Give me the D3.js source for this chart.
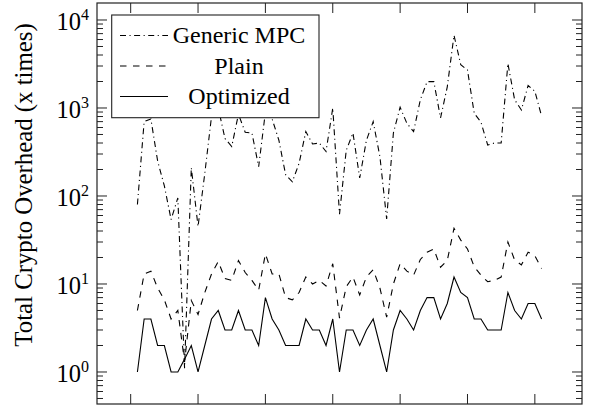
<!DOCTYPE html>
<html>
<head>
<meta charset="utf-8">
<script src="https://cdn.jsdelivr.net/npm/d3@7"></script>
<style>
  body { margin: 0; background: #fff; }
  svg { display: block; }
</style>
</head>
<body>
<svg id="chart" width="597" height="408"></svg>
<script>
/* global d3 */

const serif = "'Liberation Serif', 'Times New Roman', Times, 'DejaVu Serif', serif";

// data, one value per run (x = 1 .. 61)
const xTicks = [0, 10, 20, 30, 40, 50, 60];
const yTicks = [1, 10, 100, 1000, 10000];
const seriesNames = ["Generic MPC", "Plain", "Optimized"];

const generic = [80, 700, 750, 250, 130, 54, 95, 1.1, 210, 45,
  180, 800, 1000, 450, 365, 850, 530, 520, 215, 900,
  750, 430, 175, 145, 235, 540, 390, 400, 320, 1000,
  62, 330, 520, 160, 430, 700, 280, 55, 520, 1020,
  670, 540, 1240, 1990, 2000, 770, 1740, 6700, 3100, 2700,
  870, 690, 380, 400, 400, 3200, 1240, 950, 1800, 1550, 810];

const plain = [5, 13, 14, 9, 6.6, 4, 5, 1.3, 6.5, 4.5,
  8, 13, 18, 11.5, 11, 18.5, 13.5, 11, 8.5, 22,
  13, 13, 7, 6.6, 8, 12, 10, 11, 9.5, 17,
  4.1, 9.3, 12, 7.5, 12, 14.5, 9, 4.2, 10, 17,
  14, 12.6, 19, 23, 25, 15.5, 18.5, 43, 31.5, 25,
  15.7, 12.6, 10.6, 11, 12, 30, 18.7, 16.5, 23, 21, 15];

const optimized = [1, 4, 4, 2, 2, 1, 1, 1.4, 2, 1,
  2, 4, 5, 3, 3, 5, 3, 3, 2, 7,
  4, 3, 2, 2, 2, 4, 3, 3, 2, 4,
  1, 3, 3, 2, 3, 4, 2, 1, 3, 5,
  4, 3, 5, 7, 7, 4, 6, 12, 8, 7,
  4, 4, 3, 3, 3, 8, 5, 4, 6, 6, 4];

const dashes = ["6,3.5,1.1,3.5", "6.5,6.5", null];

const box = { left: 97, right: 582, top: 3, bottom: 404 };

const svg = d3.select("#chart");

const x = d3.scaleLinear().domain([-5, 67]).range([box.left, box.right]);
const y = d3.scaleLog().domain([0.4327, 15600]).range([box.bottom, box.top]);

// clip for the plot lines
svg.append("clipPath").attr("id", "plot-clip")
  .append("rect")
  .attr("x", box.left).attr("y", box.top)
  .attr("width", box.right - box.left).attr("height", box.bottom - box.top);

const plot = svg.append("g").attr("clip-path", "url(#plot-clip)");

const line = d3.line()
  .x((d, i) => x(i + 1))
  .y(d => y(d));

[generic, plain, optimized].forEach((values, k) => {
  plot.append("path")
    .datum(values)
    .attr("d", line)
    .attr("fill", "none")
    .attr("stroke", "#000")
    .attr("stroke-width", 1.1)
    .attr("stroke-dasharray", dashes[k]);
});

// ticks, all pointing inward
const ticks = svg.append("g").attr("stroke", "#222").attr("stroke-width", 1);

xTicks.forEach(t => {
  ticks.append("line").attr("x1", x(t)).attr("x2", x(t))
    .attr("y1", box.bottom).attr("y2", box.bottom - 10);
  ticks.append("line").attr("x1", x(t)).attr("x2", x(t))
    .attr("y1", box.top).attr("y2", box.top + 10);
});

const [y0, y1] = y.domain();
const minor = [];
for (let e = -1; e <= 4; e++) {
  for (let m = 2; m <= 9; m++) {
    const v = m * Math.pow(10, e);
    if (v > y0 && v < y1) minor.push(v);
  }
}

minor.forEach(v => {
  ticks.append("line").attr("x1", box.left).attr("x2", box.left + 6)
    .attr("y1", y(v)).attr("y2", y(v));
  ticks.append("line").attr("x1", box.right).attr("x2", box.right - 6)
    .attr("y1", y(v)).attr("y2", y(v));
});

yTicks.forEach(v => {
  ticks.append("line").attr("x1", box.left).attr("x2", box.left + 10)
    .attr("y1", y(v)).attr("y2", y(v));
  ticks.append("line").attr("x1", box.right).attr("x2", box.right - 10)
    .attr("y1", y(v)).attr("y2", y(v));
});

// y tick labels as 10^n
yTicks.forEach(v => {
  const t = svg.append("text")
    .attr("x", 89)
    .attr("y", y(v) + 10.5)
    .attr("text-anchor", "end")
    .attr("font-family", serif)
    .attr("font-size", 24.5);
  t.append("tspan").text("10");
  t.append("tspan")
    .attr("dy", -10)
    .attr("font-size", 16)
    .text(String(Math.round(Math.log10(v))));
});

// frame
svg.append("rect")
  .attr("x", box.left).attr("y", box.top)
  .attr("width", box.right - box.left).attr("height", box.bottom - box.top)
  .attr("fill", "none")
  .attr("stroke", "#222")
  .attr("stroke-width", 1.2);

// axis title
svg.append("text")
  .attr("transform", "translate(31.5,185) rotate(-90)")
  .attr("text-anchor", "middle")
  .attr("font-family", serif)
  .attr("font-size", 24.8)
  .text("Total Crypto Overhead (x times)");

// legend
const legend = svg.append("g");
legend.append("rect")
  .attr("x", 111.7).attr("y", 15)
  .attr("width", 207.3).attr("height", 102.7)
  .attr("fill", "#fff")
  .attr("stroke", "#222")
  .attr("stroke-width", 1.1);

seriesNames.forEach((name, k) => {
  const base = 43 + k * 30.5;
  legend.append("line")
    .attr("x1", 120).attr("x2", 168)
    .attr("y1", base - 7.5).attr("y2", base - 7.5)
    .attr("stroke", "#000")
    .attr("stroke-width", 1.1)
    .attr("stroke-dasharray", dashes[k]);
  legend.append("text")
    .attr("x", 239).attr("y", base)
    .attr("text-anchor", "middle")
    .attr("font-family", serif)
    .attr("font-size", 24)
    .text(name);
});
</script>
</body>
</html>
